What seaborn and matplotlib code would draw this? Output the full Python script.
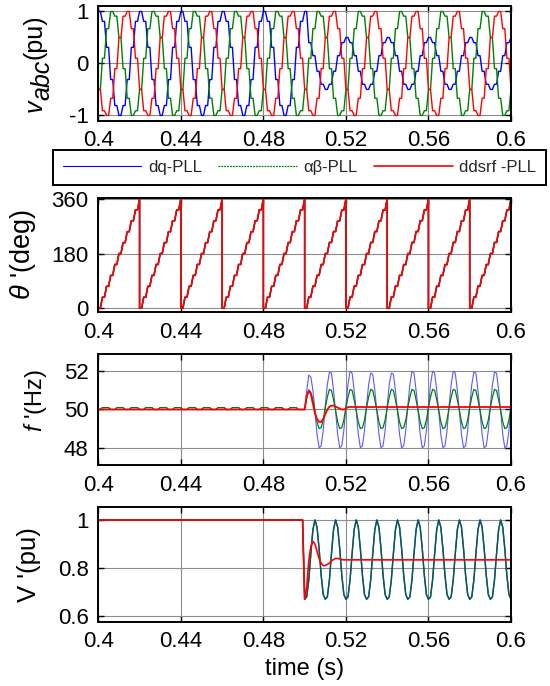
import numpy as np
import pandas as pd
import seaborn as sns
import matplotlib
matplotlib.use("Agg")
import matplotlib.pyplot as plt
from matplotlib.lines import Line2D

# ------------------------------------------------------------------ data
xticks = [0.4, 0.44, 0.48, 0.52, 0.56, 0.6]
xtick_labels = ["0.4", "0.44", "0.48", "0.52", "0.56", "0.6"]
series_names = ["dq-PLL", "αβ-PLL", "ddsrf -PLL"]

# panel 1: phase voltages, sampled every 2 ms from 0.400 s to 0.600 s (101 samples)
t_v = np.linspace(0.4, 0.6, 101)
va = [1.00, 0.81, 0.31, -0.31, -0.81, -1.00, -0.81, -0.31, 0.31, 0.81,
      1.00, 0.81, 0.31, -0.31, -0.81, -1.00, -0.81, -0.31, 0.31, 0.81,
      1.00, 0.81, 0.31, -0.31, -0.81, -1.00, -0.81, -0.31, 0.31, 0.81,
      1.00, 0.81, 0.31, -0.31, -0.81, -1.00, -0.81, -0.31, 0.31, 0.81,
      1.00, 0.81, 0.31, -0.31, -0.81, -1.00, -0.81, -0.31, 0.31, 0.81,
      1.00,
      0.40, 0.15, -0.15, -0.40, -0.50, -0.40, -0.15, 0.15, 0.40, 0.50,
      0.40, 0.15, -0.15, -0.40, -0.50, -0.40, -0.15, 0.15, 0.40, 0.50,
      0.40, 0.15, -0.15, -0.40, -0.50, -0.40, -0.15, 0.15, 0.40, 0.50,
      0.40, 0.15, -0.15, -0.40, -0.50, -0.40, -0.15, 0.15, 0.40, 0.50,
      0.40, 0.15, -0.15, -0.40, -0.50, -0.40, -0.15, 0.15, 0.40, 0.50]
vb = [-0.50, 0.10, 0.67, 1.00, 0.91, 0.50, -0.10, -0.67, -1.00, -0.91,
      -0.50, 0.10, 0.67, 1.00, 0.91, 0.50, -0.10, -0.67, -1.00, -0.91,
      -0.50, 0.10, 0.67, 1.00, 0.91, 0.50, -0.10, -0.67, -1.00, -0.91,
      -0.50, 0.10, 0.67, 1.00, 0.91, 0.50, -0.10, -0.67, -1.00, -0.91,
      -0.50, 0.10, 0.67, 1.00, 0.91, 0.50, -0.10, -0.67, -1.00, -0.91,
      -0.50, 0.10, 0.67, 1.00, 0.91, 0.50, -0.10, -0.67, -1.00, -0.91,
      -0.50, 0.10, 0.67, 1.00, 0.91, 0.50, -0.10, -0.67, -1.00, -0.91,
      -0.50, 0.10, 0.67, 1.00, 0.91, 0.50, -0.10, -0.67, -1.00, -0.91,
      -0.50, 0.10, 0.67, 1.00, 0.91, 0.50, -0.10, -0.67, -1.00, -0.91,
      -0.50, 0.10, 0.67, 1.00, 0.91, 0.50, -0.10, -0.67, -1.00, -0.91,
      -0.50]
vc = [-0.50, -0.91, -1.00, -0.67, -0.10, 0.50, 0.91, 1.00, 0.67, 0.10,
      -0.50, -0.91, -1.00, -0.67, -0.10, 0.50, 0.91, 1.00, 0.67, 0.10,
      -0.50, -0.91, -1.00, -0.67, -0.10, 0.50, 0.91, 1.00, 0.67, 0.10,
      -0.50, -0.91, -1.00, -0.67, -0.10, 0.50, 0.91, 1.00, 0.67, 0.10,
      -0.50, -0.91, -1.00, -0.67, -0.10, 0.50, 0.91, 1.00, 0.67, 0.10,
      -0.50, -0.91, -1.00, -0.67, -0.10, 0.50, 0.91, 1.00, 0.67, 0.10,
      -0.50, -0.91, -1.00, -0.67, -0.10, 0.50, 0.91, 1.00, 0.67, 0.10,
      -0.50, -0.91, -1.00, -0.67, -0.10, 0.50, 0.91, 1.00, 0.67, 0.10,
      -0.50, -0.91, -1.00, -0.67, -0.10, 0.50, 0.91, 1.00, 0.67, 0.10,
      -0.50, -0.91, -1.00, -0.67, -0.10, 0.50, 0.91, 1.00, 0.67, 0.10,
      -0.50]

# panel 2: estimated phase angle (deg); each 20 ms cycle sampled every 2 ms,
# the wrap instant appears twice (360 then 0)
t_theta = [round(0.4 + 0.02 * c + 0.002 * j, 4) for c in range(10) for j in range(11)] + [0.6]
theta_dq = [0, 36, 72, 108, 144, 180, 216, 252, 288, 324, 360,
            0, 36, 72, 108, 144, 180, 216, 252, 288, 324, 360,
            0, 36, 72, 108, 144, 180, 216, 252, 288, 324, 360,
            0, 36, 72, 108, 144, 180, 216, 252, 288, 324, 360,
            0, 36, 72, 108, 144, 180, 216, 252, 288, 324, 360,
            0, 37, 73, 108, 143, 180, 217, 253, 288, 323, 360,
            0, 37, 73, 108, 143, 180, 217, 253, 288, 323, 360,
            0, 37, 73, 108, 143, 180, 217, 253, 288, 323, 360,
            0, 37, 73, 108, 143, 180, 217, 253, 288, 323, 360,
            0, 37, 73, 108, 143, 180, 217, 253, 288, 323, 360,
            0]
theta_ab = [0, 36, 72, 108, 144, 180, 216, 252, 288, 324, 360,
            0, 36, 72, 108, 144, 180, 216, 252, 288, 324, 360,
            0, 36, 72, 108, 144, 180, 216, 252, 288, 324, 360,
            0, 36, 72, 108, 144, 180, 216, 252, 288, 324, 360,
            0, 36, 72, 108, 144, 180, 216, 252, 288, 324, 360,
            0, 36.5, 72.5, 108, 143.5, 180, 216.5, 252.5, 288, 323.5, 360,
            0, 36.5, 72.5, 108, 143.5, 180, 216.5, 252.5, 288, 323.5, 360,
            0, 36.5, 72.5, 108, 143.5, 180, 216.5, 252.5, 288, 323.5, 360,
            0, 36.5, 72.5, 108, 143.5, 180, 216.5, 252.5, 288, 323.5, 360,
            0, 36.5, 72.5, 108, 143.5, 180, 216.5, 252.5, 288, 323.5, 360,
            0]
theta_dd = [0, 36, 72, 108, 144, 180, 216, 252, 288, 324, 360,
            0, 36, 72, 108, 144, 180, 216, 252, 288, 324, 360,
            0, 36, 72, 108, 144, 180, 216, 252, 288, 324, 360,
            0, 36, 72, 108, 144, 180, 216, 252, 288, 324, 360,
            0, 36, 72, 108, 144, 180, 216, 252, 288, 324, 360,
            0, 36, 72, 108, 144, 180, 216, 252, 288, 324, 360,
            0, 36, 72, 108, 144, 180, 216, 252, 288, 324, 360,
            0, 36, 72, 108, 144, 180, 216, 252, 288, 324, 360,
            0, 36, 72, 108, 144, 180, 216, 252, 288, 324, 360,
            0, 36, 72, 108, 144, 180, 216, 252, 288, 324, 360,
            0]

# panels 3 and 4: sampled every 1 ms from 0.400 s to 0.600 s (201 samples)
t_fv = np.linspace(0.4, 0.6, 201)
f_dq = [50.0, 50.0, 50.1, 50.1, 50.1, 50.1, 50.0, 50.0, 50.0, 50.1,
        50.1, 50.1, 50.1, 50.0, 50.0, 50.0, 50.1, 50.1, 50.1, 50.1,
        50.0, 50.0, 50.0, 50.1, 50.1, 50.1, 50.1, 50.0, 50.0, 50.0,
        50.1, 50.1, 50.1, 50.1, 50.0, 50.0, 50.0, 50.1, 50.1, 50.1,
        50.1, 50.0, 50.0, 50.0, 50.1, 50.1, 50.1, 50.1, 50.0, 50.0,
        50.0, 50.1, 50.1, 50.1, 50.1, 50.0, 50.0, 50.0, 50.1, 50.1,
        50.1, 50.1, 50.0, 50.0, 50.0, 50.1, 50.1, 50.1, 50.1, 50.0,
        50.0, 50.0, 50.1, 50.1, 50.1, 50.1, 50.0, 50.0, 50.0, 50.1,
        50.1, 50.1, 50.1, 50.0, 50.0, 50.0, 50.1, 50.1, 50.1, 50.1,
        50.0, 50.0, 50.0, 50.1, 50.1, 50.1, 50.1, 50.0, 50.0, 50.0,
        50.0, 51.0, 51.8, 51.7, 51.0, 49.9, 48.7, 48.0, 48.1, 48.9,
        50.2, 51.3, 51.95, 51.9, 51.0, 49.9, 48.7, 48.0, 48.1, 48.9,
        50.2, 51.3, 52.0, 51.9, 51.0, 49.9, 48.7, 48.0, 48.1, 48.9,
        50.2, 51.3, 51.9, 51.85, 51.0, 49.9, 48.7, 48.0, 48.1, 48.9,
        50.2, 51.3, 51.9, 51.85, 51.0, 49.9, 48.7, 48.0, 48.1, 48.9,
        50.2, 51.3, 52.0, 51.9, 51.0, 49.9, 48.7, 48.0, 48.1, 48.9,
        50.2, 51.3, 52.0, 51.9, 51.0, 49.9, 48.7, 48.0, 48.1, 48.9,
        50.2, 51.3, 52.0, 51.9, 51.0, 49.9, 48.7, 48.0, 48.1, 48.9,
        50.2, 51.3, 51.95, 51.9, 51.0, 49.9, 48.7, 48.0, 48.1, 48.9,
        50.2, 51.3, 51.95, 51.9, 51.0, 49.9, 48.7, 48.0, 48.1, 48.9,
        50.2]
f_ab = [50.0, 50.0, 50.1, 50.1, 50.1, 50.1, 50.0, 50.0, 50.0, 50.1,
        50.1, 50.1, 50.1, 50.0, 50.0, 50.0, 50.1, 50.1, 50.1, 50.1,
        50.0, 50.0, 50.0, 50.1, 50.1, 50.1, 50.1, 50.0, 50.0, 50.0,
        50.1, 50.1, 50.1, 50.1, 50.0, 50.0, 50.0, 50.1, 50.1, 50.1,
        50.1, 50.0, 50.0, 50.0, 50.1, 50.1, 50.1, 50.1, 50.0, 50.0,
        50.0, 50.1, 50.1, 50.1, 50.1, 50.0, 50.0, 50.0, 50.1, 50.1,
        50.1, 50.1, 50.0, 50.0, 50.0, 50.1, 50.1, 50.1, 50.1, 50.0,
        50.0, 50.0, 50.1, 50.1, 50.1, 50.1, 50.0, 50.0, 50.0, 50.1,
        50.1, 50.1, 50.1, 50.0, 50.0, 50.0, 50.1, 50.1, 50.1, 50.1,
        50.0, 50.0, 50.0, 50.1, 50.1, 50.1, 50.1, 50.0, 50.0, 50.0,
        50.0, 50.6, 51.0, 50.9, 50.5, 49.95, 49.35, 49.0, 49.05, 49.45,
        50.1, 50.65, 51.05, 51.0, 50.5, 49.95, 49.35, 49.0, 49.05, 49.45,
        50.1, 50.65, 51.05, 51.0, 50.5, 49.95, 49.35, 49.0, 49.05, 49.45,
        50.1, 50.65, 51.05, 51.0, 50.5, 49.95, 49.35, 49.0, 49.05, 49.45,
        50.1, 50.65, 51.05, 51.0, 50.5, 49.95, 49.35, 49.0, 49.05, 49.45,
        50.1, 50.65, 51.05, 51.0, 50.5, 49.95, 49.35, 49.0, 49.05, 49.45,
        50.1, 50.65, 51.05, 51.0, 50.5, 49.95, 49.35, 49.0, 49.05, 49.45,
        50.1, 50.65, 51.05, 51.0, 50.5, 49.95, 49.35, 49.0, 49.05, 49.45,
        50.1, 50.65, 51.05, 51.0, 50.5, 49.95, 49.35, 49.0, 49.05, 49.45,
        50.1, 50.65, 51.05, 51.0, 50.5, 49.95, 49.35, 49.0, 49.05, 49.45,
        50.1]
f_dd = [50.0, 50.0, 50.0, 50.0, 50.0, 50.0, 50.0, 50.0, 50.0, 50.0,
        50.0, 50.0, 50.0, 50.0, 50.0, 50.0, 50.0, 50.0, 50.0, 50.0,
        50.0, 50.0, 50.0, 50.0, 50.0, 50.0, 50.0, 50.0, 50.0, 50.0,
        50.0, 50.0, 50.0, 50.0, 50.0, 50.0, 50.0, 50.0, 50.0, 50.0,
        50.0, 50.0, 50.0, 50.0, 50.0, 50.0, 50.0, 50.0, 50.0, 50.0,
        50.0, 50.0, 50.0, 50.0, 50.0, 50.0, 50.0, 50.0, 50.0, 50.0,
        50.0, 50.0, 50.0, 50.0, 50.0, 50.0, 50.0, 50.0, 50.0, 50.0,
        50.0, 50.0, 50.0, 50.0, 50.0, 50.0, 50.0, 50.0, 50.0, 50.0,
        50.0, 50.0, 50.0, 50.0, 50.0, 50.0, 50.0, 50.0, 50.0, 50.0,
        50.0, 50.0, 50.0, 50.0, 50.0, 50.0, 50.0, 50.0, 50.0, 50.0,
        50.0, 50.7, 51.0, 50.8, 50.3, 49.8, 49.5, 49.35, 49.35, 49.5,
        49.75, 50.0, 50.15, 50.2, 50.2, 50.15, 50.1, 50.05, 50.0, 50.0,
        50.05, 50.13, 50.13, 50.13, 50.13, 50.13, 50.13, 50.13, 50.13, 50.13,
        50.13, 50.13, 50.13, 50.13, 50.13, 50.13, 50.13, 50.13, 50.13, 50.13,
        50.13, 50.13, 50.13, 50.13, 50.13, 50.13, 50.13, 50.13, 50.13, 50.13,
        50.13, 50.13, 50.13, 50.13, 50.13, 50.13, 50.13, 50.13, 50.13, 50.13,
        50.13, 50.13, 50.13, 50.13, 50.13, 50.13, 50.13, 50.13, 50.13, 50.13,
        50.13, 50.13, 50.13, 50.13, 50.13, 50.13, 50.13, 50.13, 50.13, 50.13,
        50.13, 50.13, 50.13, 50.13, 50.13, 50.13, 50.13, 50.13, 50.13, 50.13,
        50.13, 50.13, 50.13, 50.13, 50.13, 50.13, 50.13, 50.13, 50.13, 50.13,
        50.13]
V_dq = [1.00, 1.00, 1.00, 1.00, 1.00, 1.00, 1.00, 1.00, 1.00, 1.00,
        1.00, 1.00, 1.00, 1.00, 1.00, 1.00, 1.00, 1.00, 1.00, 1.00,
        1.00, 1.00, 1.00, 1.00, 1.00, 1.00, 1.00, 1.00, 1.00, 1.00,
        1.00, 1.00, 1.00, 1.00, 1.00, 1.00, 1.00, 1.00, 1.00, 1.00,
        1.00, 1.00, 1.00, 1.00, 1.00, 1.00, 1.00, 1.00, 1.00, 1.00,
        1.00, 1.00, 1.00, 1.00, 1.00, 1.00, 1.00, 1.00, 1.00, 1.00,
        1.00, 1.00, 1.00, 1.00, 1.00, 1.00, 1.00, 1.00, 1.00, 1.00,
        1.00, 1.00, 1.00, 1.00, 1.00, 1.00, 1.00, 1.00, 1.00, 1.00,
        1.00, 1.00, 1.00, 1.00, 1.00, 1.00, 1.00, 1.00, 1.00, 1.00,
        1.00, 1.00, 1.00, 1.00, 1.00, 1.00, 1.00, 1.00, 1.00, 1.00,
        0.67, 0.68, 0.75, 0.86, 0.96, 1.00, 0.97, 0.88, 0.77, 0.69,
        0.67, 0.68, 0.75, 0.86, 0.96, 1.00, 0.97, 0.88, 0.77, 0.69,
        0.67, 0.68, 0.75, 0.86, 0.96, 1.00, 0.97, 0.88, 0.77, 0.69,
        0.67, 0.68, 0.75, 0.86, 0.96, 1.00, 0.97, 0.88, 0.77, 0.69,
        0.67, 0.68, 0.75, 0.86, 0.96, 1.00, 0.97, 0.88, 0.77, 0.69,
        0.67, 0.68, 0.75, 0.86, 0.96, 1.00, 0.97, 0.88, 0.77, 0.69,
        0.67, 0.68, 0.75, 0.86, 0.96, 1.00, 0.97, 0.88, 0.77, 0.69,
        0.67, 0.68, 0.75, 0.86, 0.96, 1.00, 0.97, 0.88, 0.77, 0.69,
        0.67, 0.68, 0.75, 0.86, 0.96, 1.00, 0.97, 0.88, 0.77, 0.69,
        0.67, 0.68, 0.75, 0.86, 0.96, 1.00, 0.97, 0.88, 0.77, 0.69,
        0.67]
V_ab = [1.00, 1.00, 1.00, 1.00, 1.00, 1.00, 1.00, 1.00, 1.00, 1.00,
        1.00, 1.00, 1.00, 1.00, 1.00, 1.00, 1.00, 1.00, 1.00, 1.00,
        1.00, 1.00, 1.00, 1.00, 1.00, 1.00, 1.00, 1.00, 1.00, 1.00,
        1.00, 1.00, 1.00, 1.00, 1.00, 1.00, 1.00, 1.00, 1.00, 1.00,
        1.00, 1.00, 1.00, 1.00, 1.00, 1.00, 1.00, 1.00, 1.00, 1.00,
        1.00, 1.00, 1.00, 1.00, 1.00, 1.00, 1.00, 1.00, 1.00, 1.00,
        1.00, 1.00, 1.00, 1.00, 1.00, 1.00, 1.00, 1.00, 1.00, 1.00,
        1.00, 1.00, 1.00, 1.00, 1.00, 1.00, 1.00, 1.00, 1.00, 1.00,
        1.00, 1.00, 1.00, 1.00, 1.00, 1.00, 1.00, 1.00, 1.00, 1.00,
        1.00, 1.00, 1.00, 1.00, 1.00, 1.00, 1.00, 1.00, 1.00, 1.00,
        0.67, 0.68, 0.75, 0.86, 0.96, 1.00, 0.97, 0.88, 0.77, 0.69,
        0.67, 0.68, 0.75, 0.86, 0.96, 1.00, 0.97, 0.88, 0.77, 0.69,
        0.67, 0.68, 0.75, 0.86, 0.96, 1.00, 0.97, 0.88, 0.77, 0.69,
        0.67, 0.68, 0.75, 0.86, 0.96, 1.00, 0.97, 0.88, 0.77, 0.69,
        0.67, 0.68, 0.75, 0.86, 0.96, 1.00, 0.97, 0.88, 0.77, 0.69,
        0.67, 0.68, 0.75, 0.86, 0.96, 1.00, 0.97, 0.88, 0.77, 0.69,
        0.67, 0.68, 0.75, 0.86, 0.96, 1.00, 0.97, 0.88, 0.77, 0.69,
        0.67, 0.68, 0.75, 0.86, 0.96, 1.00, 0.97, 0.88, 0.77, 0.69,
        0.67, 0.68, 0.75, 0.86, 0.96, 1.00, 0.97, 0.88, 0.77, 0.69,
        0.67, 0.68, 0.75, 0.86, 0.96, 1.00, 0.97, 0.88, 0.77, 0.69,
        0.67]
V_dd = [1.00, 1.00, 1.00, 1.00, 1.00, 1.00, 1.00, 1.00, 1.00, 1.00,
        1.00, 1.00, 1.00, 1.00, 1.00, 1.00, 1.00, 1.00, 1.00, 1.00,
        1.00, 1.00, 1.00, 1.00, 1.00, 1.00, 1.00, 1.00, 1.00, 1.00,
        1.00, 1.00, 1.00, 1.00, 1.00, 1.00, 1.00, 1.00, 1.00, 1.00,
        1.00, 1.00, 1.00, 1.00, 1.00, 1.00, 1.00, 1.00, 1.00, 1.00,
        1.00, 1.00, 1.00, 1.00, 1.00, 1.00, 1.00, 1.00, 1.00, 1.00,
        1.00, 1.00, 1.00, 1.00, 1.00, 1.00, 1.00, 1.00, 1.00, 1.00,
        1.00, 1.00, 1.00, 1.00, 1.00, 1.00, 1.00, 1.00, 1.00, 1.00,
        1.00, 1.00, 1.00, 1.00, 1.00, 1.00, 1.00, 1.00, 1.00, 1.00,
        1.00, 1.00, 1.00, 1.00, 1.00, 1.00, 1.00, 1.00, 1.00, 1.00,
        0.67, 0.72, 0.83, 0.89, 0.91, 0.90, 0.87, 0.84, 0.82, 0.81,
        0.81, 0.815, 0.82, 0.83, 0.835, 0.84, 0.84, 0.838, 0.835, 0.834,
        0.834, 0.834, 0.834, 0.834, 0.834, 0.834, 0.834, 0.834, 0.834, 0.834,
        0.834, 0.834, 0.834, 0.834, 0.834, 0.834, 0.834, 0.834, 0.834, 0.834,
        0.834, 0.834, 0.834, 0.834, 0.834, 0.834, 0.834, 0.834, 0.834, 0.834,
        0.834, 0.834, 0.834, 0.834, 0.834, 0.834, 0.834, 0.834, 0.834, 0.834,
        0.834, 0.834, 0.834, 0.834, 0.834, 0.834, 0.834, 0.834, 0.834, 0.834,
        0.834, 0.834, 0.834, 0.834, 0.834, 0.834, 0.834, 0.834, 0.834, 0.834,
        0.834, 0.834, 0.834, 0.834, 0.834, 0.834, 0.834, 0.834, 0.834, 0.834,
        0.834, 0.834, 0.834, 0.834, 0.834, 0.834, 0.834, 0.834, 0.834, 0.834,
        0.834]

# ------------------------------------------------------------------ style
sns.set_theme(style="white")
plt.rcParams["font.family"] = ["Liberation Sans", "DejaVu Sans"]
plt.rcParams["mathtext.fontset"] = "custom"
plt.rcParams["mathtext.rm"] = "Liberation Sans"
plt.rcParams["mathtext.it"] = "Liberation Sans:italic"
plt.rcParams["mathtext.bf"] = "Liberation Sans:bold"

C_BLUE, C_GREEN, C_RED = "#0000ff", "#008000", "#ff0000"


def zoh(t, y, hold=0.001):
    """sample-and-hold look: keep each sample for `hold` seconds then ramp."""
    xs, ys = [], []
    for i in range(len(t)):
        xs.append(t[i]); ys.append(y[i])
        if i + 1 < len(t) and t[i + 1] > t[i] + 1e-9:
            xs.append(t[i] + hold); ys.append(y[i])
    return pd.DataFrame({"t": xs, "v": ys})


def draw(ax, df, color, lw, alpha=1.0, z=2):
    sns.lineplot(data=df, x="t", y="v", ax=ax, color=color, lw=lw, alpha=alpha,
                 sort=False, estimator=None, legend=False, zorder=z)


W_FIG, H_FIG = 550, 686
L_PX, R_PX = 98.3, 511.0


def make_ax(top, bottom):
    return fig.add_axes([L_PX / W_FIG, 1 - bottom / H_FIG,
                         (R_PX - L_PX) / W_FIG, (bottom - top) / H_FIG])


def style(ax, ylim, yticks, yticklabels, ylabel, labx, laby=0.5, labsize=17, xlabel=None):
    ax.set_xlim(0.4, 0.6)
    ax.set_ylim(*ylim)
    ax.set_xticks(xticks)
    ax.set_xticklabels(xtick_labels)
    ax.set_yticks(yticks)
    ax.set_yticklabels(yticklabels)
    ax.set_axisbelow(True)
    ax.grid(True, color="0.55", lw=0.8)
    ax.tick_params(direction="in", length=4, width=1, top=True, right=True,
                   bottom=True, left=True, labelsize=16, pad=7, colors="black")
    for s in ax.spines.values():
        s.set_visible(True); s.set_color("black"); s.set_linewidth(1.4)
    ax.set_ylabel(ylabel, fontsize=labsize, color="black")
    ax.yaxis.set_label_coords(labx, laby)
    ax.set_xlabel(xlabel if xlabel else "", fontsize=17, color="black")


fig = plt.figure(figsize=(5.5, 6.86), dpi=100)
fig.patch.set_facecolor("white")

# panel 1
ax1 = make_ax(6.3, 120.6)
draw(ax1, zoh(t_v, va), C_BLUE, 1.0)
draw(ax1, zoh(t_v, vb), C_GREEN, 1.0)
draw(ax1, zoh(t_v, vc), C_RED, 1.0)
style(ax1, (-1.1, 1.1), [-1, 0, 1], ["-1", "0", "1"], "", -0.13)

# panel 2
ax2 = make_ax(198, 311.8)
draw(ax2, zoh(t_theta, theta_dq), C_BLUE, 1.0)
draw(ax2, zoh(t_theta, theta_ab), C_GREEN, 1.0)
draw(ax2, zoh(t_theta, theta_dd), C_RED, 1.2)
style(ax2, (-12, 363), [0, 180, 360], ["0", "180", "360"], r"$\theta$ '(deg)", -0.145,
      labsize=19.5)

# panel 3
ax3 = make_ax(354, 465)
draw(ax3, pd.DataFrame({"t": t_fv, "v": f_dq}), "#5a5aff", 0.8)
draw(ax3, pd.DataFrame({"t": t_fv, "v": f_ab}), C_GREEN, 0.9)
draw(ax3, pd.DataFrame({"t": t_fv, "v": f_dd}), C_RED, 1.3)
style(ax3, (47.1, 52.9), [48, 50, 52], ["48", "50", "52"], r"$f$ '(Hz)", -0.12,
      laby=0.585, labsize=17)

# panel 4
ax4 = make_ax(507, 621.6)
draw(ax4, pd.DataFrame({"t": t_fv, "v": V_dq}), C_BLUE, 1.0)
draw(ax4, pd.DataFrame({"t": t_fv, "v": V_ab}), C_GREEN, 1.0, alpha=0.75)
draw(ax4, pd.DataFrame({"t": t_fv, "v": V_dd}), C_RED, 1.2)
style(ax4, (0.577, 1.054), [0.6, 0.8, 1.0], ["0.6", "0.8", "1"], "V '(pu)", -0.14,
      labsize=18.5, xlabel="time (s)")

# panel-1 y label: italic v followed by a full-size lowered "abc", then (pu)
renderer = fig.canvas.get_renderer()
y_cursor = 112.0
for txt, fstyle, dx in [("v", "italic", 0.0), ("abc", "italic", 7.0), ("(pu)", "normal", 0.0)]:
    tt = fig.text((42.0 + dx) / W_FIG, 1 - y_cursor / H_FIG, txt, rotation=90,
                  rotation_mode="anchor", ha="left", va="baseline", fontsize=18,
                  fontstyle=fstyle, color="black")
    y_cursor -= tt.get_window_extent(renderer).height

# legend
handles = [Line2D([0], [0], color=C_BLUE, lw=0.8),
           Line2D([0], [0], color=C_GREEN, lw=0.9, ls=(0, (1.5, 0.8))),
           Line2D([0], [0], color=C_RED, lw=1.2)]
leg = fig.legend(handles, series_names, loc="center",
                 bbox_to_anchor=((52 + 547) / 2 / W_FIG, 1 - (148 + 187) / 2 / H_FIG),
                 ncol=3, fontsize=12, frameon=True, fancybox=False,
                 handlelength=4.7, handletextpad=0.4, columnspacing=1.0,
                 borderpad=0.6, edgecolor="black", framealpha=1)
leg.get_frame().set_linewidth(1.4)

fig.savefig("out.png", dpi=100, facecolor="white")
